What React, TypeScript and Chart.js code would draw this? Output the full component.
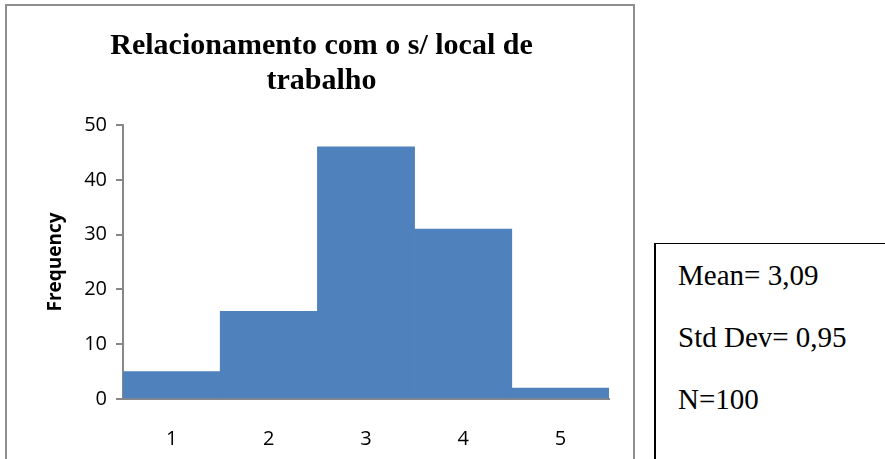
import React, { useEffect, useRef } from "react";
import { Chart, registerables } from "chart.js";

Chart.register(...registerables);

const categories = ["1", "2", "3", "4", "5"];
const frequencies = [5, 16, 46, 31, 2];
const yMin = 0;
const yMax = 50;
const yStep = 10;
const titleLines = ["Relacionamento com o s/ local de", "trabalho"];
const yAxisTitle = "Frequency";
const statsLines = ["Mean= 3,09", "Std Dev= 0,95", "N=100"];

const BAR_COLOR = "#4F81BD";
const AXIS_COLOR = "#878787";
const SANS = "'Open Sans', sans-serif";
const SERIF = "'Liberation Serif', 'Times New Roman', serif";

export default function App() {
  const canvasRef = useRef<HTMLCanvasElement | null>(null);

  useEffect(() => {
    const canvas = canvasRef.current;
    if (!canvas) return;
    const chart = new Chart(canvas, {
      type: "bar",
      data: {
        labels: categories,
        datasets: [
          {
            data: frequencies,
            backgroundColor: BAR_COLOR,
            borderWidth: 0,
            barPercentage: 1,
            categoryPercentage: 1,
          },
        ],
      },
      options: {
        animation: false,
        responsive: false,
        maintainAspectRatio: false,
        layout: { padding: { left: 6, top: 0, right: 0, bottom: 0 } },
        plugins: {
          legend: { display: false },
          tooltip: { enabled: false },
          title: {
            display: true,
            text: titleLines,
            color: "#000",
            font: { family: SERIF, size: 30, weight: "bold", lineHeight: 1.15 },
            padding: { top: 29, bottom: 27 },
          },
        },
        scales: {
          x: {
            grid: { display: false },
            border: { display: true, color: AXIS_COLOR, width: 2 },
            ticks: {
              color: "#000",
              font: { family: SANS, size: 20 },
              padding: 20,
              maxRotation: 0,
            },
            afterFit: (s: any) => {
              s.height = 60;
            },
          },
          y: {
            min: yMin,
            max: yMax,
            ticks: {
              stepSize: yStep,
              color: "#000",
              font: { family: SANS, size: 20 },
              padding: 9,
            },
            grid: {
              display: true,
              drawOnChartArea: false,
              drawTicks: true,
              tickLength: 7,
              color: AXIS_COLOR,
              lineWidth: 2,
            },
            border: { display: true, color: AXIS_COLOR, width: 2 },
            title: {
              display: true,
              text: yAxisTitle,
              color: "#000",
              font: { family: SANS, size: 19, weight: "bold" },
              padding: { top: 38, bottom: 0 },
            },
            afterFit: (s: any) => {
              s.width = 117;
            },
          },
          yRight: {
            position: "right",
            display: true,
            grid: { display: false },
            border: { display: false },
            ticks: { display: false },
            afterFit: (s: any) => {
              s.width = 28;
            },
          },
        },
      },
    });
    return () => chart.destroy();
  }, []);

  return (
    <div
      style={{
        position: "absolute",
        left: 0,
        top: 0,
        width: 885,
        height: 459,
        overflow: "hidden",
        background: "#fff",
      }}
    >
      <canvas
        ref={canvasRef}
        width={637}
        height={459}
        style={{ position: "absolute", left: 0, top: 0, width: 637, height: 459 }}
      />
      <div
        style={{
          position: "absolute",
          left: 5,
          top: 4,
          width: 630,
          height: 470,
          border: "2px solid #8e8e8e",
          boxSizing: "border-box",
          pointerEvents: "none",
        }}
      />
      <div
        style={{
          position: "absolute",
          left: 654,
          top: 243,
          width: 260,
          height: 260,
          borderLeft: "2px solid #000",
          borderTop: "1px solid #000",
          boxSizing: "border-box",
          fontFamily: SERIF,
          fontSize: 29,
          color: "#000",
        }}
      >
        {statsLines.map((t, i) => (
          <div
            key={i}
            style={{ position: "absolute", left: 22, top: 15 + i * 62, whiteSpace: "nowrap", lineHeight: "32px" }}
          >
            {t}
          </div>
        ))}
      </div>
    </div>
  );
}
